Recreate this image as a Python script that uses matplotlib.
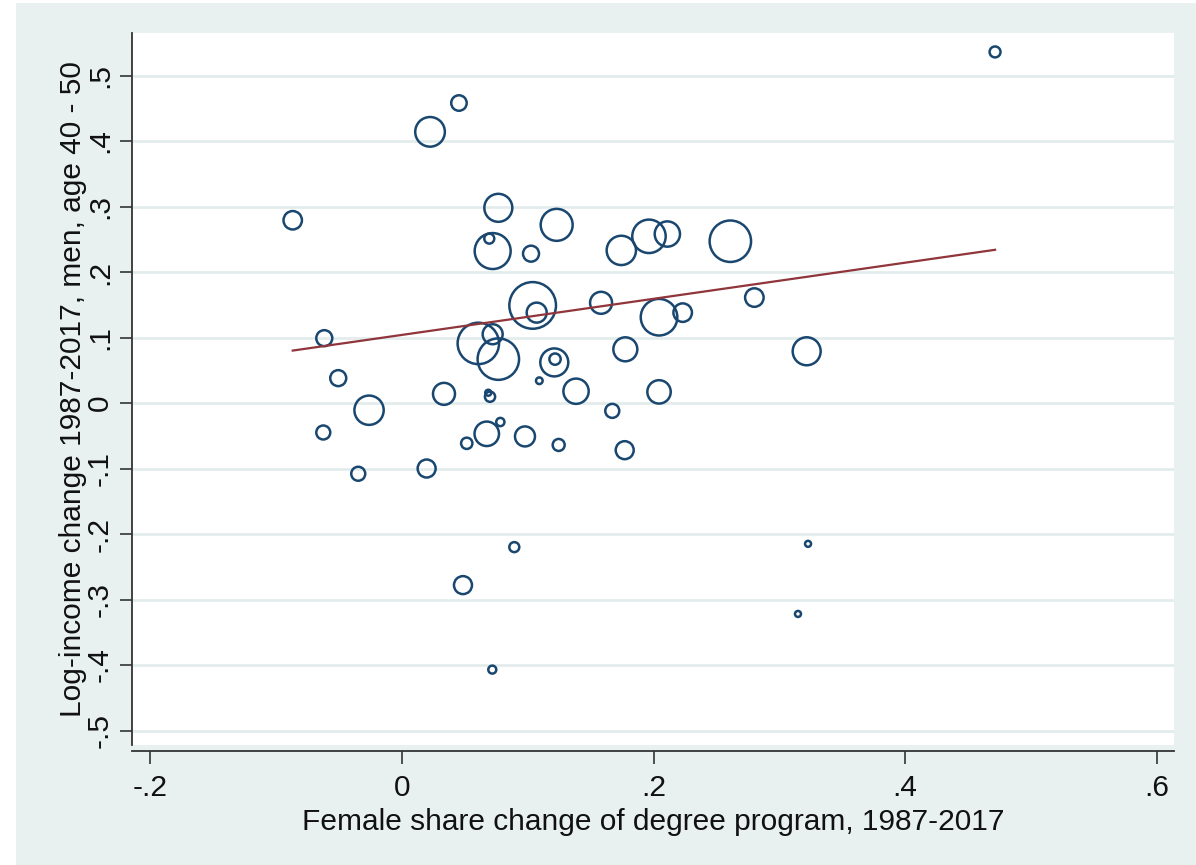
import numpy as np
import matplotlib
matplotlib.use('Agg')
from matplotlib import pyplot as plt
from matplotlib.patches import Rectangle

# 数据: 学位项目女性占比变化 vs 男性收入对数变化 (圆圈大小 = 权重)
share_change = [0.4716, 0.0453, 0.0223, -0.0869, 0.0766, 0.1230, 0.0694, 0.0721, 0.1026, 0.1744,
                0.1964, 0.2110, 0.2611, 0.2802, 0.1039, 0.1071, 0.1583, 0.2044, 0.2232, 0.3218,
                -0.0618, 0.0607, 0.0721, 0.0766, 0.1211, 0.1217, 0.1776, -0.0507, 0.1092, -0.0262,
                0.0334, 0.0700, 0.0686, 0.1384, 0.2044, 0.1672, -0.0626, 0.0674, 0.0782, 0.0515,
                0.0978, 0.1246, 0.1771, -0.0348, 0.0196, 0.0893, 0.3229, 0.0485, 0.3149, 0.0718]
income_change = [0.536, 0.458, 0.414, 0.279, 0.298, 0.272, 0.251, 0.232, 0.228, 0.233,
                 0.2545, 0.258, 0.247, 0.161, 0.149, 0.138, 0.153, 0.131, 0.138, 0.079,
                 0.099, 0.091, 0.105, 0.067, 0.062, 0.067, 0.082, 0.038, 0.034, -0.011,
                 0.014, 0.0096, 0.0157, 0.018, 0.017, -0.012, -0.045, -0.047, -0.029, -0.0615,
                 -0.051, -0.064, -0.072, -0.108, -0.100, -0.220, -0.215, -0.278, -0.322, -0.407]
weights = [30, 60, 220, 85, 196, 256, 25, 324, 64, 215,
           280, 160, 430, 86, 545, 100, 121, 335, 86, 196,
           64, 430, 100, 430, 196, 32, 144, 64, 11, 215,
           121, 26, 9, 160, 137, 49, 49, 150, 17, 32,
           100, 36, 81, 49, 81, 25, 9, 81, 9, 16]

# 加权线性拟合 (从图上读出的截距和斜率)
fit_intercept = 0.104
fit_slope = 0.2755

xticks = [-0.2, 0, 0.2, 0.4, 0.6]
xticklabels = ['-.2', '0', '.2', '.4', '.6']
yticks = [-0.5, -0.4, -0.3, -0.2, -0.1, 0, 0.1, 0.2, 0.3, 0.4, 0.5]
yticklabels = ['-.5', '-.4', '-.3', '-.2', '-.1', '0', '.1', '.2', '.3', '.4', '.5']


def main():
    plt.rcParams['font.family'] = ['Liberation Sans', 'DejaVu Sans']
    fs = 21.5

    fig = plt.figure(figsize=(11.96, 8.65), dpi=100)
    fig.patch.set_facecolor('white')
    fig.patches.append(Rectangle((16 / 1196, 0), 1, 1 - 3 / 865, transform=fig.transFigure,
                                 facecolor='#e8f0f0', edgecolor='none', zorder=-10))

    ax = fig.add_axes([132 / 1196, 1 - 745 / 865, (1174 - 132) / 1196, (745 - 33) / 865])
    ax.set_facecolor('white')

    s = np.array(weights) * 2.07
    ax.scatter(share_change, income_change, s=s, facecolors='none', edgecolors='#1a476f',
               linewidths=1.8, zorder=3)

    xs = np.array([min(share_change), max(share_change)])
    ax.plot(xs, fit_intercept + fit_slope * xs, color='#90353b', linewidth=1.6, zorder=4)

    ax.set_xlim(-0.2147, 0.6139)
    ax.set_ylim(-0.5221, 0.5649)

    ax.tick_params(axis='both', length=9, width=1.2, color='#333333',
                   labelcolor='#111111', labelsize=fs)
    ax.tick_params(axis='x', pad=8)
    ax.tick_params(axis='y', pad=4)
    ax.set_xticks(xticks)
    ax.set_xticklabels(xticklabels)
    ax.set_yticks(yticks)
    ax.set_yticklabels(yticklabels, rotation=90, va='center')

    ax.yaxis.grid(True, color='#e3ecec', linewidth=2)
    ax.set_axisbelow(True)

    for side in ['top', 'right']:
        ax.spines[side].set_visible(False)
    ax.spines['bottom'].set_position(('outward', 4))
    for side in ['left', 'bottom']:
        ax.spines[side].set_color('#333333')
        ax.spines[side].set_linewidth(1.3)

    ax.set_xlabel('Female share change of degree program, 1987-2017', fontsize=fs, labelpad=4,
                  color='#111111')
    ax.set_ylabel('Log-income change 1987-2017, men, age 40 - 50', fontsize=fs, labelpad=-1,
                  color='#111111')

    fig.savefig('out.png', dpi=100)


if __name__ == '__main__':
    main()
